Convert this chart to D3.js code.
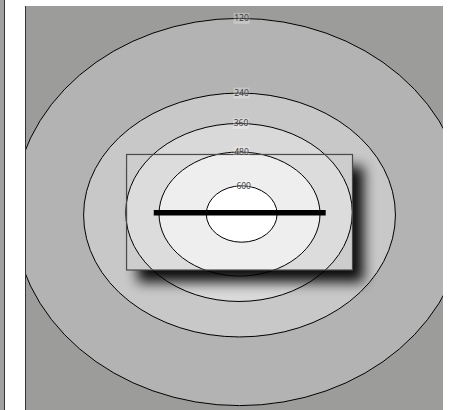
<!DOCTYPE html>
<html><head><meta charset="utf-8">
<script src="https://cdn.jsdelivr.net/npm/d3@7"></script>
<style>html,body{margin:0;padding:0;background:#fff;}</style>
</head><body>
<script>
// ---- data (arbitrary plan units) ----
const levels   = [120, 240, 360, 480, 600];
const centerX  = [1.32, 1.32, 1.20, 1.32, 1.84];
const centerY  = [0.00, -0.73, -0.12, -0.49, -0.49];
const radiusX  = [54.1, 37.3, 27.1, 19.26, 8.47];
const radiusY  = [47.0, 29.6, 21.6, 15.05, 6.84];
const bandFill = ["#b3b3b3", "#c8c8c8", "#d9d9d9", "#ececec", "#ffffff"];
const outsideFill = "#9c9c9a";
const building = {x0: -25.7, x1: 28.35, y0: -14.08, y1: 13.96};
const barrier  = {x0: -19.2, x1: 21.94, y: -0.17};

const W = 460, H = 410;
const plot = {left: 25, right: 443, top: 6, bottom: 418};
const x = d3.scaleLinear().domain([-50, 50]).range([plot.left, plot.right]);
const y = d3.scaleLinear().domain([50, -50]).range([plot.top, plot.bottom]);

const svg = d3.select("body").append("svg").attr("width", W).attr("height", H);
const defs = svg.append("defs");
defs.append("clipPath").attr("id", "plotclip").append("rect")
  .attr("x", plot.left).attr("y", plot.top)
  .attr("width", plot.right - plot.left).attr("height", plot.bottom - plot.top);
defs.append("clipPath").attr("id", "bldclip").append("rect")
  .attr("x", x(building.x0)).attr("y", y(building.y1))
  .attr("width", x(building.x1) - x(building.x0)).attr("height", y(building.y0) - y(building.y1));
const f1 = defs.append("filter").attr("id", "blur6").attr("x", "-50%").attr("y", "-50%").attr("width", "200%").attr("height", "200%");
f1.append("feGaussianBlur").attr("stdDeviation", 6.5);
const f2 = defs.append("filter").attr("id", "blur4").attr("x", "-50%").attr("y", "-300%").attr("width", "200%").attr("height", "700%");
f2.append("feGaussianBlur").attr("stdDeviation", 5);

// left neighbouring strip
svg.append("rect").attr("x", 0).attr("y", 0).attr("width", 4.5).attr("height", H).attr("fill", "#a0a0a0");
svg.append("line").attr("x1", 4.5).attr("x2", 4.5).attr("y1", 0).attr("y2", H).attr("stroke", "#333").attr("stroke-width", 1);

const g = svg.append("g").attr("clip-path", "url(#plotclip)");
g.append("rect").attr("x", plot.left).attr("y", plot.top)
  .attr("width", plot.right - plot.left).attr("height", plot.bottom - plot.top).attr("fill", outsideFill);

const idx = d3.range(levels.length);
function drawFills(sel) {
  sel.selectAll("ellipse").data(idx).join("ellipse")
    .attr("cx", i => x(centerX[i])).attr("cy", i => y(centerY[i]))
    .attr("rx", i => x(centerX[i] + radiusX[i]) - x(centerX[i]))
    .attr("ry", i => y(centerY[i] - radiusY[i]) - y(centerY[i]))
    .attr("fill", i => bandFill[i]);
}
drawFills(g.append("g"));

// building drop shadow
g.append("rect")
  .attr("x", x(building.x0) + 11).attr("y", y(building.y1) + 12)
  .attr("width", x(building.x1) - x(building.x0)).attr("height", y(building.y0) - y(building.y1))
  .attr("fill", "#000").attr("opacity", 0.95).attr("filter", "url(#blur6)");

// redraw fills inside building
const inB = g.append("g").attr("clip-path", "url(#bldclip)");
drawFills(inB.append("g"));
inB.append("rect").attr("x", x(building.x0)).attr("y", y(building.y1))
  .attr("width", x(building.x1) - x(building.x0)).attr("height", y(building.y0) - y(building.y1))
  .attr("fill", "#fff").attr("opacity", 0.1);

// contour lines
g.append("g").selectAll("ellipse").data(idx).join("ellipse")
  .attr("cx", i => x(centerX[i])).attr("cy", i => y(centerY[i]))
  .attr("rx", i => x(centerX[i] + radiusX[i]) - x(centerX[i]))
  .attr("ry", i => y(centerY[i] - radiusY[i]) - y(centerY[i]))
  .attr("fill", "none").attr("stroke", "#000").attr("stroke-width", 1);

// building outline
g.append("rect").attr("x", x(building.x0)).attr("y", y(building.y1))
  .attr("width", x(building.x1) - x(building.x0)).attr("height", y(building.y0) - y(building.y1))
  .attr("fill", "none").attr("stroke", "#4a4a4a").attr("stroke-width", 1.2);

// barrier shadow and barrier
g.append("line").attr("x1", x(barrier.x0) + 12).attr("x2", x(barrier.x1) + 12)
  .attr("y1", y(barrier.y) + 13).attr("y2", y(barrier.y) + 13)
  .attr("stroke", "#000").attr("stroke-width", 6).attr("opacity", 0.5).attr("filter", "url(#blur4)");
g.append("line").attr("x1", x(barrier.x0)).attr("x2", x(barrier.x1))
  .attr("y1", y(barrier.y)).attr("y2", y(barrier.y))
  .attr("stroke", "#000").attr("stroke-width", 5.5);

// labels
const lab = g.append("g").selectAll("g").data(idx).join("g")
  .attr("transform", i => `translate(${x(centerX[i]) + 2},${y(centerY[i] + radiusY[i])})`);
lab.append("rect").attr("x", -8).attr("y", -5.5).attr("width", 16).attr("height", 11)
  .attr("fill", "#fff").attr("opacity", 0.25);
lab.append("text").attr("text-anchor", "middle").attr("dy", "0.35em")
  .attr("font-family", "'Open Sans', sans-serif").attr("font-size", 8.5).attr("fill", "#333")
  .text(i => levels[i]);

// plot left border
svg.append("line").attr("x1", plot.left + 0.5).attr("x2", plot.left + 0.5)
  .attr("y1", plot.top).attr("y2", H).attr("stroke", "#333").attr("stroke-width", 1);
</script>
</body></html>
